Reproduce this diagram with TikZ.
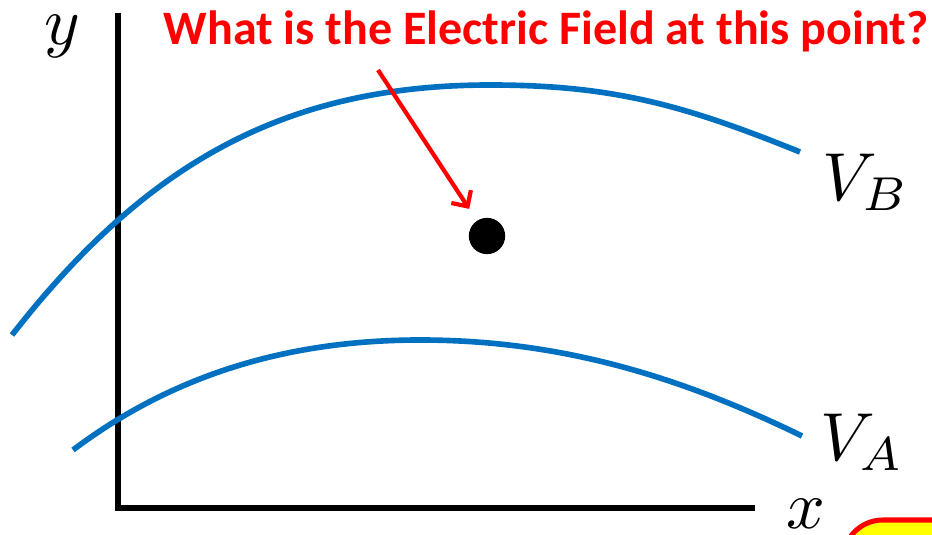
\documentclass[tikz,border=0pt]{standalone}
\usepackage{fontspec}
\newfontfamily\calib{Carlito}
\usetikzlibrary{arrows.meta}

\definecolor{eqblue}{RGB}{0,112,192}
\definecolor{boxyellow}{RGB}{255,255,0}

\tikzset{
    axis/.style={line width=4.3pt},
    equipot/.style={eqblue, line width=4.8pt},
    bigmath/.style={scale=5.8, inner sep=0pt},
    pointer/.style={red, line width=3.6pt, -{Straight Barb[length=10pt,width=20pt,line width=3.6pt]}}
}

\begin{document}
\begin{tikzpicture}[x=0.03cm,y=0.03cm]
\useasboundingbox (0,0) rectangle (932,534);

% Axes
\coordinate (O) at (118,26);
\coordinate (ytop) at (118,521);
\coordinate (xend) at (755,26);
\draw[axis] (ytop) -- (O) -- (xend);
\node[bigmath] (ylab) at (62,498) {$y$};
\node[bigmath] (xlab) at (806,20) {$x$};

% Equipotential curves
\coordinate (B0) at (12,199);
\coordinate (Btop) at (490,449);
\coordinate (B1) at (800,382);
\draw[equipot] (B0) to[out=52,in=180] (Btop) to[out=0,in=158] (B1);

\coordinate (A0) at (73,84);
\coordinate (Atop) at (420,194);
\coordinate (A1) at (802,98);
\draw[equipot] (A0) to[out=37,in=180,looseness=0.9] (Atop) to[out=0,in=154,looseness=0.9] (A1);

% Labels
\node[bigmath] (VB) at (866,352) {$V_B$};
\node[bigmath] (VA) at (862,92) {$V_A$};

% Point and question
\node[circle, fill=black, inner sep=0pt, minimum size=31pt] (P) at (487,298) {};
\node[red, inner sep=0pt] (Q) at (546,503) {\calib\bfseries\fontsize{41}{45}\selectfont What is the Electric Field at this point?};
\coordinate (tail) at (378,464);
\draw[pointer, shorten >=12pt] (tail) -- (P);

% Box at the corner
\begin{scope}
\clip (0,0) rectangle (932,534);
\draw[red, line width=4.3pt, fill=boxyellow, rounded corners=34] (843,14) rectangle (1000,-60);
\end{scope}

\end{tikzpicture}
\end{document}
